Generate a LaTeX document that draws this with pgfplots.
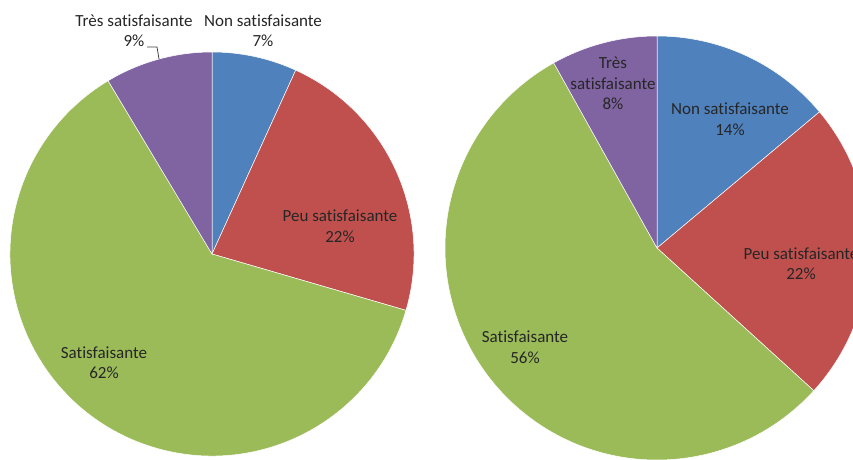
\documentclass[border=0pt]{standalone}
\usepackage{pgfplots}
\pgfplotsset{compat=1.18}
\usepackage{fontspec}
\setmainfont{Carlito}[Ligatures=NoCommon]
\definecolor{pblue}{HTML}{4F81BD}
\definecolor{pred}{HTML}{C0504D}
\definecolor{pgreen}{HTML}{9BBB59}
\definecolor{ppurple}{HTML}{8064A2}
% #1,#2 centre (axis units), #3 radius, #4 start cumulative %, #5 end cumulative %, #6 colour
\newcommand\pieslice[6]{%
  \fill[#6,draw=white,line width=0.5pt] (axis cs:#1,#2) -- ++({90-3.6*(#4)}:#3pt)
    arc[start angle={90-3.6*(#4)},end angle={90-3.6*(#5)},radius=#3pt] -- cycle;}
\begin{document}
\begin{tikzpicture}
\useasboundingbox (0,0) rectangle (853pt,459pt);
\begin{axis}[at={(0,0)},anchor=origin,x=1pt,y=1pt,
  xmin=0,xmax=853,ymin=0,ymax=459,hide axis,clip=false]
% left pie: 6.8, 22.7, 61.9, 8.6 (labelled 7%, 22%, 62%, 9%)
\pieslice{212}{205}{202}{0}{6.8}{pblue}
\pieslice{212}{205}{202}{6.8}{29.5}{pred}
\pieslice{212}{205}{202}{29.5}{91.4}{pgreen}
\pieslice{212}{205}{202}{91.4}{100}{ppurple}
% right pie: 13.9, 22.85, 55.15, 8.1 (labelled 14%, 22%, 56%, 8%)
\pieslice{657}{211}{212}{0}{13.9}{pblue}
\pieslice{657}{211}{212}{13.9}{36.75}{pred}
\pieslice{657}{211}{212}{36.75}{91.9}{pgreen}
\pieslice{657}{211}{212}{91.9}{100}{ppurple}
\tikzset{lbl/.style={font=\fontsize{17}{20.5}\selectfont,align=center,inner sep=0pt,text=black!85}}
\node[lbl] at (axis cs:263,428.5) {Non satisfaisante\\7\%};
\node[lbl] at (axis cs:134,428.5) {Très satisfaisante\\9\%};
\draw[black!75,line width=0.8pt] (axis cs:147,412) -- (axis cs:157,412) -- (axis cs:159,400);
\node[lbl] at (axis cs:340,233) {Peu satisfaisante\\22\%};
\node[lbl] at (axis cs:104,96.5) {Satisfaisante\\62\%};
\node[lbl] at (axis cs:613,375.5) {Très\\satisfaisante\\8\%};
\node[lbl] at (axis cs:730,340) {Non satisfaisante\\14\%};
\node[lbl] at (axis cs:801,195.5) {Peu satisfaisante\\22\%};
\node[lbl] at (axis cs:525,112) {Satisfaisante\\56\%};
\end{axis}
\end{tikzpicture}
\end{document}
